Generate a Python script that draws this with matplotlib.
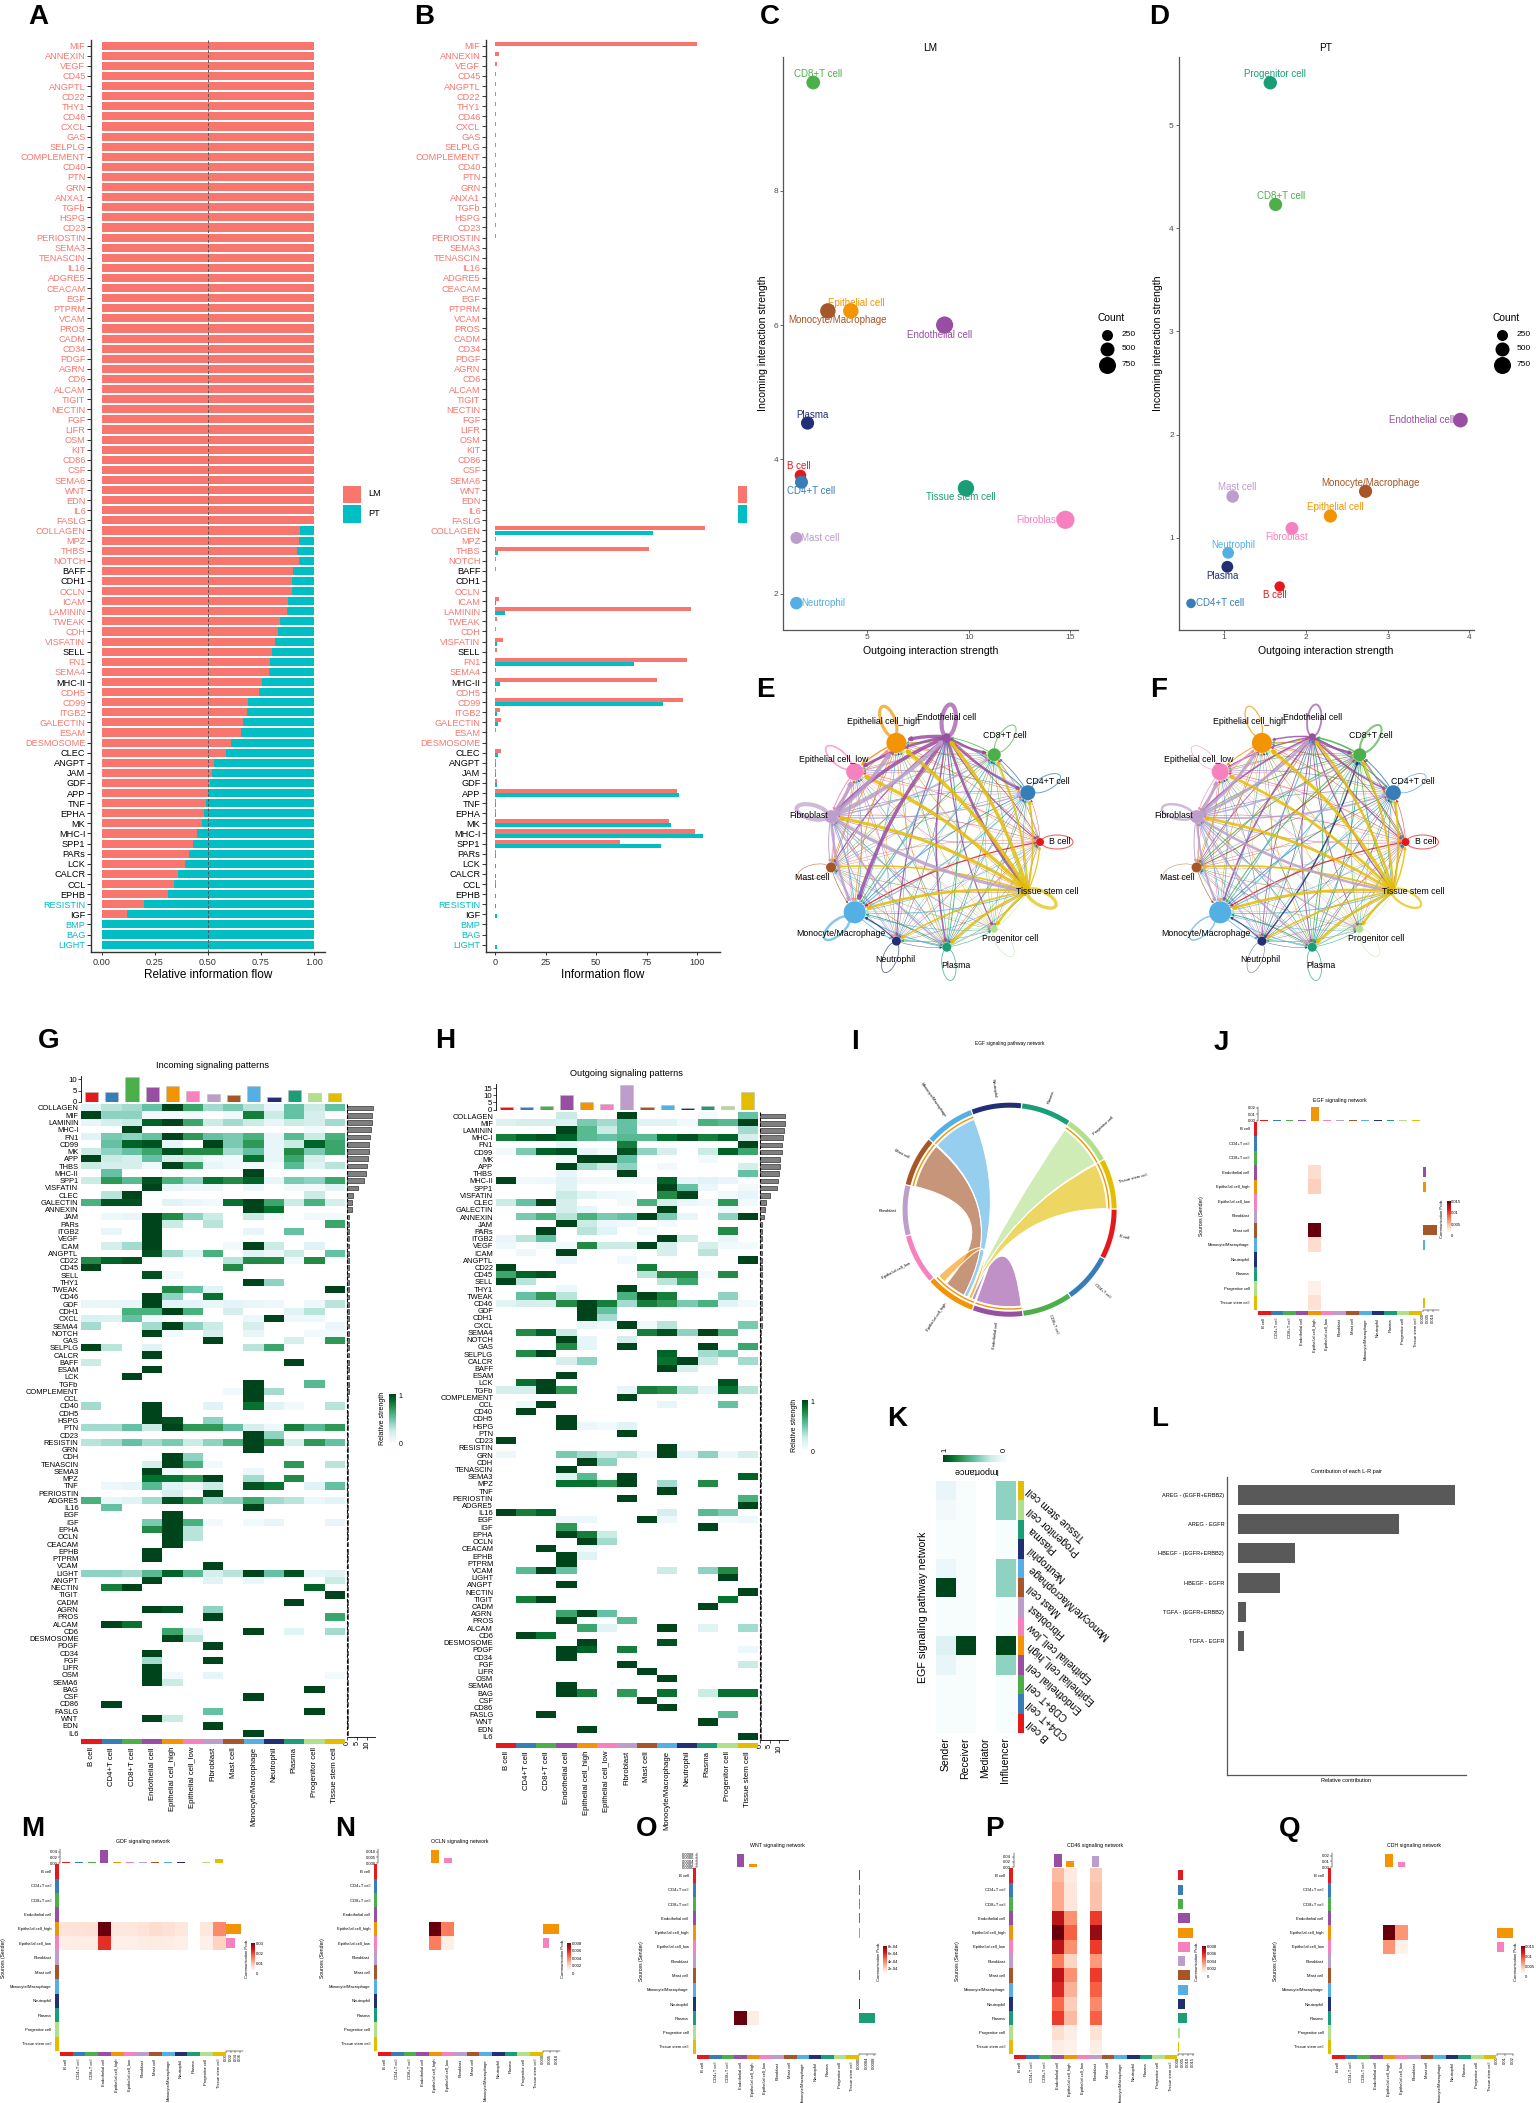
import numpy as np
import matplotlib
matplotlib.use("Agg")
import matplotlib.pyplot as plt
from matplotlib.patches import Rectangle, Ellipse, PathPatch, Circle, FancyArrowPatch
from matplotlib.path import Path

plt.rcParams['font.family'] = ['Liberation Sans', 'DejaVu Sans']

W, H = 1536, 2103

# ---------------- shared categories ----------------
cell_types = ["B cell", "CD4+T cell", "CD8+T cell", "Endothelial cell", "Epithelial cell_high",
              "Epithelial cell_low", "Fibroblast", "Mast cell", "Monocyte/Macrophage", "Neutrophil",
              "Plasma", "Progenitor cell", "Tissue stem cell"]
cell_colors = ["#E5191C", "#377EB8", "#4DAF4A", "#984EA3", "#F29403", "#F781BF", "#BC9DCC",
               "#A65628", "#54B0E4", "#222F75", "#1B9E77", "#B2DF8A", "#E3BE00"]
LM_COLOR = "#F8766D"
PT_COLOR = "#00BFC4"

# ---------------- A / B information flow ----------------
flow_pathways = ["MIF", "ANNEXIN", "VEGF", "CD45", "ANGPTL", "CD22", "THY1", "CD46", "CXCL", "GAS", "SELPLG",
                 "COMPLEMENT", "CD40", "PTN", "GRN", "ANXA1", "TGFb", "HSPG", "CD23", "PERIOSTIN", "SEMA3",
                 "TENASCIN", "IL16", "ADGRE5", "CEACAM", "EGF", "PTPRM", "VCAM", "PROS", "CADM", "CD34", "PDGF",
                 "AGRN", "CD6", "ALCAM", "TIGIT", "NECTIN", "FGF", "LIFR", "OSM", "KIT", "CD86", "CSF", "SEMA6",
                 "WNT", "EDN", "IL6", "FASLG", "COLLAGEN", "MPZ", "THBS", "NOTCH", "BAFF", "CDH1", "OCLN", "ICAM",
                 "LAMININ", "TWEAK", "CDH", "VISFATIN", "SELL", "FN1", "SEMA4", "MHC-II", "CDH5", "CD99", "ITGB2",
                 "GALECTIN", "ESAM", "DESMOSOME", "CLEC", "ANGPT", "JAM", "GDF", "APP", "TNF", "EPHA", "MK",
                 "MHC-I", "SPP1", "PARs", "LCK", "CALCR", "CCL", "EPHB", "RESISTIN", "IGF", "BMP", "BAG", "LIGHT"]
black_labels = ["BAFF", "CDH1", "SELL", "MHC-II", "CLEC", "ANGPT", "JAM", "GDF", "APP", "TNF", "EPHA", "MK",
                "MHC-I", "SPP1", "PARs", "LCK", "CALCR", "CCL", "EPHB", "IGF"]
teal_labels = ["RESISTIN", "BMP", "BAG", "LIGHT"]
lm_fraction = [1, 1, 1, 1, 1, 1, 1, 1, 1, 1, 1, 1, 1, 1, 1, 1, 1, 1, 1, 1, 1, 1, 1, 1,
               1, 1, 1, 1, 1, 1, 1, 1, 1, 1, 1, 1, 1, 1, 1, 1, 1, 1, 1, 1, 1, 1, 1, 1,
               .933, .931, .922, .929, .902, .897, .895, .879, .872, .84, .831, .816, .804, .794, .789,
               .754, .74, .688, .686, .663, .654, .61, .585, .526, .52, .51, .50, .49, .48, .47, .45, .43,
               .41, .39, .36, .34, .31, .20, .12, 0, 0, 0]
lm_flow = [100, 1.8, 1, .7, .7, .5, .5, .4, .4, .4, .4, .3, .3, .3, .3, .3, .3, .3, .3, .3, .2, .2, .2, .2,
           .2, .2, .2, .2, .2, .2, .2, .2, .2, .2, .2, .2, .2, .2, .2, .2, .2, .2, .2, .2, .2, .2, .2, .2,
           104, .5, 76, .5, .3, .2, .1, 2, 97, .8, .4, 4, 1, 95, .5, 80, .3, 93, 2.5, 3, .3, .2, 3, .4, .5, 1,
           90, .4, .3, 86, 99, 62, .4, .2, .2, .3, .1, .1, .1, 0, 0, 0]
pt_flow = [0, 0, 0, 0, 0, 0, 0, 0, 0, 0, 0, 0, 0, 0, 0, 0, 0, 0, 0, 0, 0, 0, 0, 0,
           0, 0, 0, 0, 0, 0, 0, 0, 0, 0, 0, 0, 0, 0, 0, 0, 0, 0, 0, 0, 0, 0, 0, 0,
           78, .1, 1.5, .1, .1, .1, 0, .3, 5, .2, .1, .8, .2, 69, .1, 2.5, .1, 83, 1, 1.5, .1, .1, 1.5, .3, .4,
           .8, 91, .4, .3, 87, 103, 82, .5, .3, .3, .6, .3, .5, 1, .1, .2, .8]

# ---------------- C / D scatter ----------------
lm_names = ["CD8+T cell", "Epithelial cell", "Monocyte/Macrophage", "Endothelial cell", "Plasma", "B cell",
            "CD4+T cell", "Tissue stem cell", "Fibroblast", "Mast cell", "Neutrophil"]
lm_out = [2.33, 4.18, 3.05, 8.8, 2.05, 1.7, 1.75, 9.85, 14.75, 1.5, 1.5]
lm_in = [9.61, 6.21, 6.21, 6.0, 4.54, 3.76, 3.66, 3.57, 3.10, 2.83, 1.86]
lm_count = [480, 620, 620, 760, 430, 300, 420, 700, 850, 330, 380]
lm_colors = ["#4DAF4A", "#F29403", "#A65628", "#984EA3", "#222F75", "#E5191C", "#377EB8", "#1B9E77",
             "#F781BF", "#BC9DCC", "#54B0E4"]
lm_offsets = [(5, 9), (5, 8), (10, -9), (-5, -10), (5, 8), (-2, 9), (10, -9), (-5, -9), (-28, 0), (24, 0), (27, 0)]

pt_names = ["Progenitor cell", "CD8+T cell", "Endothelial cell", "Monocyte/Macrophage", "Mast cell",
            "Epithelial cell", "Fibroblast", "Neutrophil", "Plasma", "B cell", "CD4+T cell"]
pt_out = [1.565, 1.63, 3.89, 2.73, 1.105, 2.30, 1.83, 1.05, 1.04, 1.68, 0.596]
pt_in = [5.41, 4.23, 2.14, 1.45, 1.40, 1.21, 1.09, .853, .718, .527, .363]
pt_count = [450, 430, 560, 430, 380, 430, 410, 310, 320, 200, 130]
pt_colors = ["#1B9E77", "#4DAF4A", "#984EA3", "#A65628", "#BC9DCC", "#F29403", "#F781BF", "#54B0E4",
             "#222F75", "#E5191C", "#377EB8"]
pt_offsets = [(5, 9), (5, 9), (-39, 0), (5, 8), (5, 9), (5, 9), (-5, -9), (5, 8), (-5, -9), (-5, -9), (29, 0)]

# ---------------- E / F network, edge weight rows are the sender ----------------
lm_edges = [[1.0, .4, .4, .6, .4, .4, .4, .3, 1.2, .2, .4, .3, .4],
            [.4, 1.0, .8, .8, .5, .5, .5, .4, .8, .3, .5, .4, .5],
            [.3, .4, 1.0, .8, .4, .4, .4, .4, .8, .3, .6, .4, .5],
            [1.2, 2.2, 2.4, 4.0, 3.2, 2.6, 3.4, 1.2, 3.4, 1.2, 1.6, 1.2, 2.6],
            [.4, .5, .6, 1.2, 3.0, 1.4, .8, .8, .8, .4, .6, .4, .6],
            [.4, .6, .6, 1.2, 1.6, 1.6, 1.0, .6, .8, .4, .6, .4, .6],
            [.8, 1.2, 1.4, 3.6, 3.6, 3.4, 4.0, 1.0, 2.4, .8, 1.6, 1.0, 3.2],
            [.2, .3, .3, .6, .5, .5, .5, .6, .6, .2, .4, .3, .4],
            [.6, 1, 1, 1.2, .8, .8, 1, .6, 2.4, .8, 1, .6, .8],
            [.2, .3, .3, .4, .3, .3, .3, .2, 1, .8, .4, .3, .3],
            [.4, .6, .6, .8, .5, .5, .6, .4, .8, .6, .8, .5, .5],
            [.3, .5, .5, .6, .4, .4, .5, .4, .6, .4, .6, .6, .4],
            [1.2, 1.6, 1.8, 3.2, 3.4, 3.2, 3.0, 1.6, 2.6, 1.6, 2.2, 2.2, 3.2]]
pt_edges = [[1.0, .5, .6, .6, .4, .4, .4, .3, 1.2, .2, .4, .3, .6],
            [.6, .7, .9, .9, .5, .5, .5, .4, .9, .4, .5, .4, .6],
            [1.0, .8, 2.0, 1.6, .6, .6, .8, 1.0, 1.0, .4, .8, .6, .8],
            [1.2, 1.6, 2.4, 1.8, 1.4, 1.2, 1.6, .8, 1.6, .8, 1.0, .8, 1.2],
            [.4, .5, .6, 1, 1.2, .9, .6, .6, .6, .3, .5, .4, .5],
            [.4, .5, .5, .8, 1.4, .7, .7, .5, .6, .3, .5, .4, .5],
            [.8, 1.6, 1.4, 2.6, 2.8, 2.8, 2.4, 1, 1.8, .8, 1.6, 1.2, 2.4],
            [.3, .4, 1, .6, .5, .5, .5, .5, .6, .2, .4, .3, .4],
            [.6, 1, 1, 1, .8, .8, .8, .6, 1.4, .8, .8, .6, .8],
            [.3, .4, 1.4, .5, .3, .3, .3, .2, .9, .5, .4, .3, .3],
            [.4, .6, .8, .8, .5, .5, .6, .4, .8, .5, .8, .5, .5],
            [.3, .5, .5, .6, .4, .4, .5, .4, .6, .4, .5, .5, .4],
            [1.4, 2, 2, 2.4, 3, 2.6, 2.6, 1.8, 2.6, 1.6, 2.2, 2.2, 2.2]]
lm_node_size = [8, 15, 13, 7, 20, 17, 13, 10, 22, 9, 9, 7, 5]
pt_node_size = [8, 15, 13, 7, 20, 17, 13, 10, 22, 9, 9, 7, 4]

# ---------------- G / H heatmaps (strength x 10) ----------------
heat_pathways = ["COLLAGEN", "MIF", "LAMININ", "MHC-I", "FN1", "CD99", "MK", "APP", "THBS", "MHC-II", "SPP1",
                 "VISFATIN", "CLEC", "GALECTIN", "ANNEXIN", "JAM", "PARs", "ITGB2", "VEGF", "ICAM", "ANGPTL",
                 "CD22", "CD45", "SELL", "THY1", "TWEAK", "CD46", "GDF", "CDH1", "CXCL", "SEMA4", "NOTCH", "GAS",
                 "SELPLG", "CALCR", "BAFF", "ESAM", "LCK", "TGFb", "COMPLEMENT", "CCL", "CD40", "CDH5", "HSPG",
                 "PTN", "CD23", "RESISTIN", "GRN", "CDH", "TENASCIN", "SEMA3", "MPZ", "TNF", "PERIOSTIN", "ADGRE5",
                 "IL16", "EGF", "IGF", "EPHA", "OCLN", "CEACAM", "EPHB", "PTPRM", "VCAM", "LIGHT", "ANGPT",
                 "NECTIN", "TIGIT", "CADM", "AGRN", "PROS", "ALCAM", "CD6", "DESMOSOME", "PDGF", "CD34", "FGF",
                 "LIFR", "OSM", "SEMA6", "BAG", "CSF", "CD86", "FASLG", "WNT", "EDN", "IL6"]
incoming = [
    [1.5, 3, 3.5, 5, 10, 6.5, 3.5, 4.5, 3, 1, 5, 2.5, 5],
    [10, 4, 4, .3, .3, .3, 0, .5, 8, 2.5, 5, 2, 0],
    [1, 2, 2.5, 9, 10, 6.5, 2.5, 3.5, 2.5, 1, 2.5, 2, 3.5],
    [0, 0, 10, 0, 0, 0, 0, 0, 0, 0, 0, .5, 0],
    [1.5, 4.5, 4, 5, 10, 7, 5, 4.5, 6, 1, 5.5, 2.5, 6],
    [0, 5, 9, 9.5, 1, 0, 10, 4.5, 7, 1, 2.5, 9, 6.5],
    [2.5, 4, 5, 6.5, 9.5, 7.5, 7.5, 3.5, 5, 1, 7.5, 4.5, 6.5],
    [10, 2.5, 2, 5, 2, 2, .5, .5, 8.5, 1, 6.5, 2, 0],
    [2.5, 2, 2, .5, 10, 6.5, 1, .5, .5, .3, 5.5, 1.5, 3],
    [0, 5, 0, 0, 0, 0, 0, 0, 10, 0, 0, 0, 0],
    [2.5, 7, 5.5, 9.5, 6, 4, 8.5, 7.5, 9, 1, 4.5, 4, 6.5],
    [0, 0, 0, 10, 1, .5, .7, 0, .7, 0, .3, .3, 1.5],
    [0, 3, 10, 0, 0, 0, 0, 0, 0, 0, 0, 2.5, 0],
    [6, 9.5, 9.5, 0, 1.5, .8, .5, 8.5, 10, 6.5, 2.5, 6, 2],
    [0, 0, 0, 0, 0, 0, 0, 0, 10, 8.5, 0, 0, 0],
    [0, .7, 1, 10, 7.5, 4, 2.5, 0, 2.5, .3, 0, .5, .3],
    [0, 0, 0, 10, 2.5, 0, 3, 0, 0, 0, 0, 0, 6.5],
    [0, 1, 0, 10, 0, 0, 0, 0, 1.2, 0, 5, 0, 0],
    [0, 0, 0, 10, 0, 0, 0, 0, 0, 0, 0, 0, 0],
    [0, 2, 3.5, 10, 0, 0, 0, .4, 10, 2.5, 0, 1.5, 0],
    [0, 0, 0, 9.5, 3.5, 1.5, 6, 0, 1.5, .6, 2.5, 0, 5],
    [7.5, 9, 9.5, 0, 0, 0, 0, 3, 7.5, 7.5, .5, 7.5, 0],
    [10, 0, 0, 0, 0, 0, 0, 7.5, 0, 0, 0, 0, 0],
    [0, 0, 0, 9.5, .4, 0, 0, 0, 0, 0, 0, 0, 0],
    [0, 0, 0, 0, 0, 0, 0, 0, 10, 4, 0, 0, 0],
    [0, 0, 0, 0, 7.5, 5, 1.5, 0, 0, 0, 0, 0, 10],
    [0, 0, 0, 10, 4, 0, 8.5, 0, 0, 0, 0, 0, 0],
    [1, 1, 1, 10, 1.3, 1.3, 1, 1.3, 1, .7, 0, .7, 3],
    [0, 0, 6, 6, 10, 6, 0, 2, 0, 0, 1.5, 3, 0],
    [1.8, 1.7, 5, .4, 0, 0, 0, 0, .8, 10, .6, .7, 0],
    [3.5, 0, 0, 3.5, 10, 4, 2.5, 0, 2, 0, 0, 0, .8],
    [0, 0, 0, 10, .4, 0, 2, 0, 1, 0, 0, .4, .5],
    [0, 0, 0, 0, 0, 0, 10, 0, 0, 0, 2, 0, 7],
    [10, 3, 0, 1.5, 0, 0, 0, 0, 3, 6.5, 0, 0, 0],
    [0, 0, 0, 10, 0, 0, 0, 0, 0, 0, 0, 0, 0],
    [2.5, 0, 0, 0, 0, 0, 0, 0, 0, 0, 10, 0, 0],
    [0, 0, 0, 10, 0, 0, 0, 0, 0, 0, 0, 0, 0],
    [0, 0, 10, 0, 0, 0, 0, 0, 0, 0, 0, 0, 0],
    [0, 0, 0, 0, 0, 0, 0, 0, 10, 0, 0, 5.5, 0],
    [0, 0, 0, 0, 0, 0, 0, .5, 10, 3.5, 0, 0, 0],
    [0, 0, 0, 0, 0, 0, 0, 0, 10, 0, 0, 0, 0],
    [3.5, 0, 0, 10, 0, 0, 1.5, 0, 8.5, 1.5, .4, 0, 3],
    [0, 0, 0, 10, 0, 0, 0, 0, 0, 0, 0, 0, 0],
    [0, 0, 0, 10, 9.5, 0, 4, 0, 0, 0, 0, 0, 0],
    [3.5, 3.5, 5, 2.5, 10, 7, 7, 5, 2, .7, 8, 5.5, 7],
    [0, 0, 0, 0, 0, 0, 0, 0, 10, 4, 0, 0, 0],
    [3, 3.5, 5, 3.5, 4.5, 2.5, 4, 6, 10, 7.5, 2, 7, 5],
    [0, 0, 0, 0, 0, 0, 0, 0, 10, 0, 0, 0, 0],
    [0, 0, 0, 0, 10, 4, 0, 0, 0, 0, 0, 0, 0],
    [0, 0, 0, 2, 10, 6, .5, 0, 0, 0, 7, 0, 3],
    [0, 0, 0, 10, .5, 0, 0, 0, .8, 0, 0, 0, 0],
    [0, 0, 0, 8.5, 8.5, 7, 10, 0, 3.5, 0, 7.5, 0, 0],
    [0, .7, 1, 5.5, 1.5, .7, 2.5, 0, 9.5, 8.5, 0, 1.5, 5],
    [0, 0, 0, 0, 2, 0, 10, 0, 0, 0, 0, 0, 0],
    [6, 1, 1.5, 3.5, 9.5, 7, 3.5, 4, 6.5, 3.5, 3, .8, 1.5],
    [0, 5, 0, 0, 0, 0, 0, 0, 10, 0, 0, 0, 0],
    [0, 0, 0, 0, 10, 0, 0, 0, 0, 0, 0, 0, 0],
    [0, 0, 0, 4.5, 10, 6, .4, 0, .5, 1, 0, 0, 1],
    [0, 0, 0, 7.5, 10, 3, 0, 0, 0, 0, 0, 0, 0],
    [0, 0, 0, 0, 10, 3, 0, 0, 0, 0, 0, 0, 0],
    [0, 0, 0, 0, 10, 0, 0, 0, 0, 0, 0, 0, 0],
    [0, 0, 0, 10, 0, 0, 0, 0, 0, 0, 0, 0, 0],
    [0, 0, 0, 10, 0, 0, 0, 0, 0, 0, 0, 0, 0],
    [0, 0, 0, 0, 0, 0, 10, 0, 0, 0, 0, 0, 0],
    [4, 4, 3.5, 5.5, 9, 5.5, 2, 3, 10, 5, 9.5, 1.2, 1.5],
    [0, 0, 0, 10, 0, 0, 1.5, 0, 1, 0, 0, 0, 2.5],
    [0, 8, 10, 0, 0, 0, 0, 0, 0, 0, 0, 9, 0],
    [0, 0, 0, 0, 0, 0, 0, 0, 0, 0, 0, 0, 10],
    [0, 0, 0, 0, 0, 0, 0, 0, 0, 0, 10, 0, 0],
    [0, 0, 0, 10, 9.5, 0, 4, 0, 0, 0, 0, 0, 0],
    [0, 0, 0, 0, 0, 0, 10, 0, 0, 0, 0, 0, 6.5],
    [0, 10, 8.5, 0, 0, 0, 0, 0, 0, 0, 0, 0, 0],
    [0, 0, 0, 0, 6.5, 1.5, 0, 0, 10, 0, 1.5, 0, 3.5],
    [0, 0, 0, 0, 10, 3, 0, 0, 0, 0, 0, 0, 0],
    [0, 0, 0, 0, 0, 0, 10, 0, 0, 0, 0, 0, 0],
    [0, 0, 0, 10, 0, 0, 0, 0, 0, 0, 0, 0, 0],
    [0, 0, 0, 3.5, 0, 0, 10, 0, 0, 0, 0, 0, 0],
    [0, 0, 0, 10, 0, 0, 0, 0, 0, 0, 0, 0, 0],
    [0, 0, 0, 10, .5, 0, 1.2, 0, 0, 0, 0, 0, .3],
    [0, 0, 0, 10, 2.5, 0, 0, 0, 0, 0, 0, 0, 0],
    [0, 0, 0, 0, 0, 0, 0, 0, 0, 0, 0, 10, 0],
    [0, 0, 0, 0, 0, 0, 0, 0, 10, 0, 0, 0, 0],
    [0, 10, 0, 0, 0, 0, 0, 0, 0, 0, 0, 0, 0],
    [0, 0, 0, 0, 0, 0, 5, 0, 0, 0, 0, 10, 0],
    [0, 0, 0, 10, 2.5, 0, 0, 0, 0, 0, 0, 0, 0],
    [0, 0, 0, 0, 0, 0, 10, 0, 0, 0, 0, 0, 0],
    [0, 0, 0, 0, 0, 0, 0, 0, 10, 0, 0, 0, 0]]
outgoing = [
    [0, 0, 0, 2.5, 0, 0, 10, 0, 0, 0, .3, 0, 5],
    [1.7, 2, 2, 1.7, 4.5, 3.5, 5, 1.5, 1.5, .5, 6, 5.5, 10],
    [0, 0, 0, 10, 5.5, 2.5, 5, 0, 0, 0, 0, 0, 3.5],
    [8, 9, 9.5, 9, 5.5, 5, 5.5, 5.5, 8.5, 9.5, 8, 9, 2],
    [0, 0, 0, 1, 0, 0, 8, 0, 0, 0, 0, 0, 10],
    [.4, 4.5, 9, 9.5, 1, .3, 9.5, 4, 2, 0, 2.5, 9, 6.5],
    [0, 0, 0, .3, 10, 10, 5, 0, 0, 0, .3, 0, 0],
    [0, 0, 0, 10, 3.5, 2.5, 4, 0, .4, 0, 0, 0, 2],
    [0, 0, 0, 1, 0, 0, 10, 0, 0, 0, 0, 0, 5],
    [10, .5, .7, 1.5, .4, .4, .4, .4, 9, 1, 1.5, 1, 0],
    [0, 0, 0, 1.5, 0, 0, 0, 0, 10, 5, .8, 0, .4],
    [0, 0, 0, 2.5, 1.5, .7, .5, 0, 7.5, 10, 0, .5, 1.2],
    [2.5, 5, 10, 2, 0, 0, .4, 6, 2, .8, .4, 7, .5],
    [0, 0, 0, 2, 1, 0, 0, 0, 10, 0, 0, .5, 0],
    [0, 4.5, 6, 3, 6, 4.5, 5, 10, 4.5, 1, 0, 4, 10],
    [0, 0, 0, 10, 2.5, .8, .4, 0, .3, 0, 0, 0, 0],
    [0, 0, 10, 0, 3, 1.5, 0, .5, 0, 0, 0, 7.5, 0],
    [1, 3, 5, 0, 0, 0, 0, 0, 10, 2.5, 0, .9, 0],
    [.6, 0, .3, .5, 7.5, 2.5, 2.5, 10, 2, 0, 2, .5, .3],
    [0, .6, 0, 10, 0, 0, 0, 0, 2, 0, 3, 0, 0],
    [0, 0, 0, .8, 0, 0, .5, 0, 0, 0, 0, 0, 10],
    [10, 0, 0, 0, 0, 0, 0, 8, 0, 0, 0, 0, 0],
    [6.5, 9, 9.5, 0, 0, 0, 0, 3, 7.5, 7.5, .5, 7.5, 0],
    [10, 3, 0, 0, 0, 0, 0, 0, 3, 6.5, 0, 0, 0],
    [0, 0, 0, .8, 0, 0, 10, 0, 0, 0, 0, 0, 0],
    [0, 5, 7, 3, 0, 0, 6, 10, 8, 0, 0, 4, 0],
    [1.5, 2, 2, 7.5, 10, 8, 3.5, 8, 7, 4.5, 6, 1.5, .5],
    [0, 0, 0, 0, 10, 5, 0, 0, 0, 0, 0, 0, 0],
    [0, 0, 0, 0, 10, 3.5, 0, 0, 0, 0, 0, 0, 0],
    [0, 0, 0, 0, 1, .3, 10, .5, 3, 0, 0, 0, 4.5],
    [0, 7.5, 9, 2.5, 0, 0, 0, 8, 9.5, 4, 10, 6, 0],
    [0, 0, 0, 10, 1.2, 0, 2, 0, 0, 0, 0, 0, 0],
    [0, 0, 0, 7.5, 1.2, 0, 10, 0, 0, 0, 10, 0, 6.5],
    [0, 7.5, 10, 0, 0, 0, 0, 0, 9, 0, 3.5, 4.5, 0],
    [0, 0, 0, 2, 4, 0, 0, 0, 8.5, 10, 2.5, 0, 3.5],
    [0, 0, 0, 0, 0, 0, 0, 0, 10, 2, 0, 0, 0],
    [0, 0, 0, 10, 0, 0, 0, 0, 0, 0, 0, 0, 0],
    [0, 8.5, 10, 0, 0, 0, 0, 0, 0, 0, 0, 9.5, 0],
    [2, 2, 10, 7, 0, 0, 1, 8, 7.5, 3, 1, 8.5, 3],
    [0, 0, 0, 0, 0, 0, 10, 0, 0, 0, 0, 0, 0],
    [0, .7, 10, 0, 0, 0, 0, 0, 1, 0, 0, 5, 0],
    [0, 10, 0, 0, 0, 0, 0, 0, 0, 0, 0, 0, 0],
    [0, 0, 0, 10, 0, 0, 0, 0, 0, 0, 0, 0, 0],
    [0, 0, 0, 10, .8, .5, 1.5, 0, 0, 0, 0, 0, 0],
    [0, 0, 0, 0, 0, 0, 10, 0, 0, 0, 0, 0, 0],
    [10, 0, 0, 0, 0, 0, 0, 0, 0, 0, 0, 0, 0],
    [0, 0, 0, 0, 0, 0, 0, 0, 10, 0, 0, 0, 0],
    [.6, 0, 0, 4.5, 3.5, 2.5, 3, .8, 10, 1.5, 4, .6, 2],
    [0, 0, 0, 0, 10, 4, 0, 0, 0, 0, 0, 0, 0],
    [0, 0, 0, 10, 0, 0, 0, 0, 0, 0, 0, 0, 0],
    [0, 0, 0, 1.5, 5.5, 0, 10, 0, 0, 0, 0, 0, 9],
    [0, 0, 0, 8.5, 8.5, 7, 10, 0, 3.5, 0, 7.5, 0, 0],
    [0, 0, 0, 0, 0, 0, 0, 0, 10, 0, 0, 0, 0],
    [0, 0, 0, 0, 0, 0, 10, 0, 0, 0, 0, 0, 6],
    [0, 0, 0, 0, 0, 0, 0, 0, 0, 0, 0, 0, 10],
    [10, 8, 9, 0, 0, 0, 0, 0, 2, 0, 5.5, 4.5, 0],
    [0, 0, 0, .6, .8, 0, 0, 10, .7, 0, 0, .3, .7],
    [0, 0, 0, 7, 0, 0, 0, 0, 0, 0, 10, 0, 0],
    [0, 0, 0, 10, 8, 2.5, 0, 0, 0, 0, 0, 0, 0],
    [0, 0, 0, 0, 10, 3.5, 0, 0, 0, 0, 0, 0, 0],
    [0, 0, 10, 0, .4, 0, 0, 0, 0, 0, 0, 0, 0],
    [0, 0, 0, 10, 1.5, 0, 0, 0, 0, 0, 0, 0, 0],
    [0, 0, 0, 10, 0, 0, 0, 0, 0, 0, 0, 0, 0],
    [0, 5.5, 10, 5, 0, 0, 0, 0, 2.5, 0, 4, 7.5, 0],
    [0, 0, 0, 0, 0, 0, 0, 0, 0, 0, 0, 10, 0],
    [0, 0, 0, 10, 0, 0, 0, 0, 0, 0, 0, 0, 0],
    [0, 0, 0, 0, 0, 0, 0, 0, 0, 0, 0, 0, 10],
    [0, 8, 10, 0, 0, 0, 0, 0, 0, 0, 0, 8.5, 0],
    [0, 0, 0, 0, 0, 0, 0, 0, 0, 0, 10, 0, 0],
    [0, 0, 0, 6.5, 10, 5, 0, 0, 0, 0, 0, 0, 0],
    [0, 0, 0, 10, 0, 0, 5.5, 0, 0, 0, 0, 0, 0],
    [0, 0, 0, 0, 6.5, 1.5, 0, 0, 10, 0, 1.5, 0, 3.5],
    [0, 10, 8.5, 0, 0, 0, 0, 0, 0, 0, 0, 0, 0],
    [0, 0, 0, 0, 10, 0, 0, 0, 9.5, 0, 0, 0, 0],
    [0, 0, 0, 10, 9, 0, 8, 0, 0, 0, 0, 0, .8],
    [0, 0, 0, 10, 0, 0, 0, 0, 0, 0, 0, 0, 0],
    [0, 0, 0, 0, 0, 0, 10, 0, 0, 0, 0, 0, 2.5],
    [0, 0, 0, 0, 0, 0, 0, 10, 0, 0, 0, 0, 0],
    [0, 0, 0, 0, 0, 0, 0, 0, 10, 0, 0, 0, 0],
    [0, 0, 0, 10, 0, 0, 0, 0, 0, 0, 0, 0, 0],
    [0, 0, 0, 10, 8, 0, 7, 0, 8.5, 0, 2.5, 8.5, 8.5],
    [0, 0, 0, 0, 0, 0, 0, 10, 0, 0, 0, 0, 0],
    [0, 0, 0, 0, 0, 0, 0, 0, 10, 0, 0, 0, 0],
    [0, 0, 10, 0, 0, 0, 0, 0, 0, 0, 0, 5.5, 0],
    [0, 0, 0, 0, 0, 0, 0, 0, 0, 0, 10, 0, 0],
    [0, 0, 0, 0, 10, 0, 0, 0, 0, 0, 0, 0, 0],
    [0, 0, 0, 0, 0, 0, 0, 0, 0, 0, 0, 0, 10]]
incoming_top = [4.5, 4.3, 11, 6.5, 7, 4.7, 3.6, 3.3, 7, 2.3, 5.3, 4, 4.1]
outgoing_top = [1.7, 2, 2.3, 10.5, 5.6, 4, 17, 1.7, 3.2, 1.4, 2.3, 2.9, 12]
incoming_side = [13.3, 13, 12.7, 12.4, 11.9, 11.4, 11.1, 10.8, 10.3, 9.8, 8.9, 5.4, 3, 2.5, 2.2,
                 1, 1, 1, .9, .9, .9, .9, .9, .8, .8, .8, .8, .8, .8, .8, .7, .7, .7, .7, .7, .7,
                 .7, .7, .7, .7, .6, .6, .6, .6, .6, .6, .6, .6, .6, .6, .6, .5, .5, .5, .5, .5, .5,
                 .5, .5, .5, .5, .5, .5, .5, .5, .4, .4, .4, .4, .4, .4, .4, .4, .4, .4, .4, .4, .4,
                 .4, .4, .3, .3, .3, .3, .3, .3, .3]
outgoing_side = [12.9, 12.8, 12.2, 11.7, 11.4, 11.2, 10.5, 10.2, 9.8, 9.5, 8.6, 5.2, 2.9, 2.4, 2.2,
                 1, 1, 1, .9, .9, .9, .9, .9, .8, .8, .8, .8, .8, .8, .8, .7, .7, .7, .7, .7, .7,
                 .7, .7, .7, .7, .6, .6, .6, .6, .6, .6, .6, .6, .6, .6, .6, .5, .5, .5, .5, .5, .5,
                 .5, .5, .5, .5, .5, .5, .5, .5, .4, .4, .4, .4, .4, .4, .4, .4, .4, .4, .4, .4, .4,
                 .4, .4, .3, .3, .3, .3, .3, .3, .3]

# ---------------- K / L ----------------
role_names = ["Sender", "Receiver", "Mediator", "Influencer"]
role_cells = ["Tissue stem cell", "Progenitor cell", "Plasma", "Neutrophil", "Monocyte/Macrophage", "Mast cell",
              "Fibroblast", "Epithelial cell_low", "Epithelial cell_high", "Endothelial cell", "CD8+T cell",
              "CD4+T cell", "B cell"]
sender_score = [.1, .04, 0, 0, .08, 1, 0, 0, .16, .1, 0, 0, 0]
receiver_score = [0, 0, 0, 0, 0, 0, 0, 0, 1, 0, 0, 0, 0]
mediator_score = [np.nan] * 13
influencer_score = [.4, .4, 0, 0, .4, .4, 0, 0, 1, .4, 0, 0, 0]
lr_pairs = ["AREG - (EGFR+ERBB2)", "AREG - EGFR", "HBEGF - (EGFR+ERBB2)", "HBEGF - EGFR",
            "TGFA - (EGFR+ERBB2)", "TGFA - EGFR"]
lr_contribution = [1, .742, .262, .193, .0385, .027]

# ---------------- J, M-Q communication probability ----------------
egf_col_epi_high = [0, 0, 0, .002, .0027, 0, 0, .015, .002, 0, 0, .0005, .0017]
egf_top = [.0004, .0004, .0004, .0004, .021, .0004, .0004, .0004, .0004, .0004, .0004, .0004, .0004]
egf_side = [.0003, .0003, .0003, .003, .0035, .0002, .0002, .014, .0026, .0003, .0003, .0004, .0024]

gdf_high = [.003, .0033, .0035, .03, .0025, .0025, .003, .004, .0035, .0025, 0, .0025, .012]
gdf_low = [.0012, .0015, .0015, .02, .001, .001, .0013, .0018, .0015, .001, 0, .001, .005]
gdf_top = [.004, .004, .005, .045, .004, .0035, .0035, .005, .004, .004, .0005, .003, .014]
gdf_side = [.001, .001, .001, .001, .065, .037, .0005, .001, .0005, .001, .0008, .0004, .0008]

ocln_high = [0, 0, 0, 0, .008, .0035, 0, 0, 0, 0, 0, 0, 0]
ocln_low = [0, 0, 0, 0, .0035, .0003, 0, 0, 0, 0, 0, 0, 0]
ocln_top = [.0004, .0003, .0003, .0003, .0115, .0048, .0003, .0003, .0002, .0003, .0003, .0002, .0003]
ocln_side = [.0002, .0002, .0002, .0002, .0115, .0045, .0001, .0002, .0001, .0002, .0001, .0001, .0001]

wnt_plasma = [0, 0, 0, .0008, .00004, 0, 0, 0, 0, 0, 0, 0, 0]
wnt_top = [.00004, .00003, .00003, .00085, .0002, .00003, .00002, .00004, .00003, .00004, .00003, .00002, .00003]
wnt_side = [.00003, .00002, .00002, .00002, .00002, .00001, .00001, .00002, .00001, .00002, .00085, .00001, .00001]

cd46_endo = [.002, .0024, .0024, .0064, .008, .0064, .0035, .0064, .0055, .004, .005, .001, .0004]
cd46_epi = [.0005, .0007, .0007, .003, .0042, .003, .0013, .003, .0022, .0015, .002, .0004, .0002]
cd46_fib = [.0016, .0018, .0018, .005, .0072, .005, .0028, .005, .0042, .0032, .0042, .0009, .0004]
cd46_top = [.002, .0012, .0012, .05, .022, .001, .042, .002, .0012, .0015, .001, .0008, .0012]
cd46_side = [.0047, .0047, .0047, .0117, .015, .0117, .0066, .0117, .0098, .007, .0094, .0023, .001]

cdh_high = [0, 0, 0, 0, .015, .0055, 0, 0, 0, 0, 0, 0, 0]
cdh_low = [0, 0, 0, 0, .0055, .0004, 0, 0, 0, 0, 0, 0, 0]
cdh_top = [.0006, .0005, .0005, .0005, .022, .009, .0005, .0006, .0004, .0005, .0005, .0004, .0005]
cdh_side = [.0003, .0003, .0003, .0003, .02, .009, .0002, .0004, .0002, .0003, .0002, .0002, .0002]

# ---------------- layout helpers ----------------
fig = plt.figure(figsize=(W / 100, H / 100), dpi=100)


def px_axes(x0, y0, x1, y1, **kw):
    # axes from a box in picture pixels (y going down)
    return fig.add_axes([x0 / W, 1 - y1 / H, (x1 - x0) / W, (y1 - y0) / H], **kw)


ov = fig.add_axes([0, 0, 1, 1], zorder=20)
ov.set_xlim(0, W)
ov.set_ylim(H, 0)
ov.axis('off')
ov.patch.set_alpha(0)


def only_spines(ax, keep, color='#333333', lw=0.8):
    for s in ['left', 'right', 'top', 'bottom']:
        ax.spines[s].set_visible(s in keep)
        ax.spines[s].set_color(color)
        ax.spines[s].set_linewidth(lw)
    ax.patch.set_alpha(0)


# panel letters
letters = [("A", 28, 24), ("B", 414, 24), ("C", 760, 24), ("D", 1149, 24), ("E", 756, 697), ("F", 1150, 697),
           ("G", 38, 1048), ("H", 435, 1048), ("I", 851, 1049), ("J", 1214, 1050), ("K", 887, 1426), ("L", 1151, 1426),
           ("M", 21, 1836), ("N", 335, 1836), ("O", 636, 1836), ("P", 985, 1836), ("Q", 1279, 1836)]
for name, lx, ly in letters:
    ov.text(lx, ly, name, fontsize=20, fontweight='bold', ha='left', va='baseline', color='black')

# ---------------- A ----------------
ROW0, ROWH = 45.7, 10.1
n_flow = len(flow_pathways)
rows = np.arange(n_flow)
label_colors = ['black' if p in black_labels else PT_COLOR if p in teal_labels else LM_COLOR for p in flow_pathways]

ax_a = px_axes(91, 40, 325, 952)
ax_a.barh(rows, lm_fraction, height=0.8, color=LM_COLOR, linewidth=0)
ax_a.barh(rows, 1 - np.array(lm_fraction), left=lm_fraction, height=0.8, color=PT_COLOR, linewidth=0)
ax_a.axvline(0.5, color='#555555', lw=0.7, ls=(0, (3, 2)))
ax_a.set_xlim(-11 / 212, (325 - 102) / 212)
ax_a.set_ylim((952 - ROW0) / ROWH, (40 - ROW0) / ROWH)
ax_a.set_yticks(rows)
ax_a.set_yticklabels(flow_pathways, fontsize=6.6)
for t, c in zip(ax_a.get_yticklabels(), label_colors):
    t.set_color(c)
ax_a.set_xticks([0, .25, .5, .75, 1])
ax_a.set_xticklabels(["0.00", "0.25", "0.50", "0.75", "1.00"], fontsize=6.6, color='#333333')
ax_a.tick_params(axis='y', length=3, width=0.7, pad=1, color='#333333')
ax_a.tick_params(axis='x', length=2.5, width=0.7, pad=1.5, color='#333333')
ax_a.set_xlabel("Relative information flow", fontsize=8.5, labelpad=2)
only_spines(ax_a, ['left', 'bottom'], lw=1.0)

ov.add_patch(Rectangle((343, 486), 18, 17, color=LM_COLOR, lw=0))
ov.add_patch(Rectangle((343, 505), 18, 18, color=PT_COLOR, lw=0))
ov.text(368, 494, "LM", fontsize=6.6, va='center')
ov.text(368, 514, "PT", fontsize=6.6, va='center')

# ---------------- B ----------------
ax_b = px_axes(486, 40, 720, 952)
ax_b.barh(rows - 0.2, lm_flow, height=0.4, color=LM_COLOR, linewidth=0)
ax_b.barh(rows + 0.2, pt_flow, height=0.4, color=PT_COLOR, linewidth=0)
ax_b.set_xlim(-9 / 2.02, (720 - 495) / 2.02)
ax_b.set_ylim((952 - ROW0) / ROWH, (40 - ROW0) / ROWH)
ax_b.set_yticks(rows)
ax_b.set_yticklabels(flow_pathways, fontsize=6.6)
for t, c in zip(ax_b.get_yticklabels(), label_colors):
    t.set_color(c)
ax_b.set_xticks([0, 25, 50, 75, 100])
ax_b.tick_params(axis='x', labelsize=6.6, labelcolor='#333333', length=2.5, width=0.7, pad=1.5, color='#333333')
ax_b.tick_params(axis='y', length=3, width=0.7, pad=1, color='#333333')
ax_b.set_xlabel("Information flow", fontsize=8.5, labelpad=2)
only_spines(ax_b, ['left', 'bottom'], lw=1.0)

ov.add_patch(Rectangle((738, 486), 9, 17, color=LM_COLOR, lw=0))
ov.add_patch(Rectangle((738, 505), 9, 18, color=PT_COLOR, lw=0))


# ---------------- C / D ----------------
def dot_area(counts):
    # circle size legend: 250 -> 11 px, 750 -> 17 px across
    d = 11 + (np.array(counts, dtype=float) - 250) * 0.012
    return (d * 0.72) ** 2


def scatter_panel(box, xlim, ylim, xticks, yticks, xs, ys, counts, colors, names, offsets, title):
    ax = px_axes(*box)
    ax.scatter(xs, ys, s=dot_area(counts), c=colors, linewidths=0, zorder=3, clip_on=False)
    for xv, yv, nm, col, off in zip(xs, ys, names, colors, offsets):
        ax.annotate(nm, (xv, yv), xytext=off, textcoords='offset pixels', color=col, fontsize=7,
                    ha='center', va='center', zorder=2, annotation_clip=False)
    ax.set_xlim(*xlim)
    ax.set_ylim(*ylim)
    ax.set_xticks(xticks)
    ax.set_yticks(yticks)
    ax.tick_params(labelsize=6, labelcolor='#4d4d4d', length=2, width=0.6, pad=1.5, color='#4d4d4d')
    ax.set_xlabel("Outgoing interaction strength", fontsize=7.6, labelpad=3)
    ax.set_ylabel("Incoming interaction strength", fontsize=7.6, labelpad=4)
    ax.set_title(title, fontsize=7.2, pad=4)
    only_spines(ax, ['left', 'bottom'], color='#555555', lw=0.9)
    return ax


scatter_panel((783, 57, 1078, 629.5), (0.84, 15.37), (1.467, 9.99), [5, 10, 15], [2, 4, 6, 8],
              lm_out, lm_in, lm_count, lm_colors, lm_names, lm_offsets, "LM")
scatter_panel((1178.6, 57, 1473.5, 629.5), (0.444, 4.05), (0.11, 5.66), [1, 2, 3, 4], [1, 2, 3, 4, 5],
              pt_out, pt_in, pt_count, pt_colors, pt_names, pt_offsets, "PT")

legend_counts = [250, 500, 750]
for lx in (1106.5, 1502):
    ov.text(lx - 9.5, 318, "Count", fontsize=7.4, va='center')
    for cnt, ly in zip(legend_counts, (335, 349, 365)):
        ov.scatter([lx], [ly], s=dot_area([cnt]), c='black', linewidths=0)
        ov.text(lx + 15, ly, str(cnt), fontsize=6, va='center')

# ---------------- E / F circle networks ----------------
NET_ANGLE = 360 / 13
net_label_pos = [(1060, 842), (1047.6, 782), (1005, 736), (947, 717), (883.7, 721), (833.4, 759), (808.5, 816),
                 (812, 877), (840.5, 933), (895.3, 960), (955.7, 965), (1010.6, 938.7), (1047.6, 892)]


def network_panel(cx, cy, radius, edges, sizes, label_shift):
    angles = np.deg2rad(np.arange(13) * NET_ANGLE)
    nx = cx + radius * np.cos(angles)
    ny = cy - radius * np.sin(angles)
    for i in range(13):
        for j in range(13):
            weight = edges[i][j]
            if i == j:
                ux, uy = np.cos(angles[i]), -np.sin(angles[i])
                mid = 15 + sizes[i] / 2 - 2
                ov.add_patch(Ellipse((nx[i] + ux * mid, ny[i] + uy * mid), 32, 14,
                                     angle=np.rad2deg(np.arctan2(uy, ux)), fill=False,
                                     ec=cell_colors[i], lw=weight * 0.75, alpha=0.7, zorder=2))
            else:
                ov.add_patch(FancyArrowPatch((nx[i], ny[i]), (nx[j], ny[j]), connectionstyle="arc3,rad=0.1",
                                             arrowstyle='-|>', mutation_scale=3.5, color=cell_colors[i],
                                             lw=weight * 0.75, alpha=0.85, shrinkA=sizes[i] * 0.36,
                                             shrinkB=sizes[j] * 0.36, zorder=2 + weight / 10))
    for i in range(13):
        ov.add_patch(Circle((nx[i], ny[i]), sizes[i] / 2, color=cell_colors[i], lw=0, zorder=3))
    for name, (lx, ly) in zip(cell_types, net_label_pos):
        ov.text(lx + label_shift, ly, name, fontsize=6.3, ha='center', va='center', zorder=4)


network_panel(934, 842, 106, lm_edges, lm_node_size, 0)
network_panel(1299.5, 842, 106, pt_edges, pt_node_size, 365.5)

# ---------------- G / H heat ----------------
green_cmap = plt.get_cmap('BuGn').copy()
green_cmap.set_bad('white')
red_cmap = plt.get_cmap('Reds').copy()
red_cmap.set_bad('white')


def signaling_panel(values, top_vals, side_vals, x0, x1, y0, y1, strip, top_base, top_scale, top_ticks,
                    side_x0, side_scale, title, title_xy, label_top, cbar):
    mat = np.array(values, dtype=float) / 10
    ax = px_axes(x0, y0, x1, y1)
    ax.imshow(np.ma.masked_equal(mat, 0), cmap=green_cmap, vmin=0, vmax=1, aspect='auto', interpolation='nearest')
    ax.set_xticks([])
    ax.set_yticks(np.arange(len(heat_pathways)))
    ax.set_yticklabels(heat_pathways, fontsize=5.4)
    ax.tick_params(axis='y', length=0, pad=2)
    only_spines(ax, [])

    # top bars
    height = 26
    ax_top = px_axes(x0, top_base - height, x1, top_base)
    ax_top.bar(np.arange(13), top_vals, width=0.65, color=cell_colors, edgecolor='#bbbbbb', linewidth=0.4)
    ax_top.set_xlim(-.5, 12.5)
    ax_top.set_ylim(0, height / top_scale)
    ax_top.set_xticks([])
    ax_top.set_yticks(top_ticks)
    ax_top.tick_params(axis='y', labelsize=5.6, length=2, width=0.5, pad=1)
    only_spines(ax_top, ['left'], color='black', lw=0.6)

    # side bars
    ax_side = px_axes(side_x0, y0, side_x0 + 28, y1)
    ax_side.barh(np.arange(len(side_vals)), side_vals, height=0.65, color='#7f7f7f', edgecolor='#333333', linewidth=0.5)
    ax_side.set_ylim(len(side_vals) - .5, -.5)
    ax_side.set_xlim(0, 28 / side_scale)
    ax_side.set_yticks([])
    ax_side.set_xticks([0, 5, 10])
    ax_side.tick_params(axis='x', labelsize=5.4, length=2, width=0.5, pad=1, labelrotation=90)
    only_spines(ax_side, ['bottom'], color='black', lw=0.6)
    ov.plot([side_x0, side_x0], [y0, y1], color='black', lw=0.8, ls=(0, (3, 2)))

    # annotation strip under the cells
    ax_strip = px_axes(x0, strip[0], x1, strip[1])
    ax_strip.bar(np.arange(13), [1] * 13, width=1, color=cell_colors, linewidth=0)
    ax_strip.set_xlim(-.5, 12.5)
    ax_strip.set_ylim(0, 1)
    ax_strip.axis('off')
    step = (x1 - x0) / 13
    for k, name in enumerate(cell_types):
        ov.text(x0 + (k + .5) * step, label_top, name, rotation=90, fontsize=5.6, ha='center', va='top')

    ov.text(title_xy[0], title_xy[1], title, fontsize=6.7, ha='center', va='center')

    # colour bar
    cx0, cx1, cy0, cy1 = cbar
    ax_c = px_axes(cx0, cy0, cx1, cy1)
    ax_c.imshow(np.linspace(1, 0, 128)[:, None], cmap=green_cmap, aspect='auto', vmin=0, vmax=1)
    ax_c.axis('off')
    ov.text(cx1 + 3, cy0 + 2, "1", fontsize=5, va='center')
    ov.text(cx1 + 3, cy1 + 2, "0", fontsize=5, va='center')
    ov.text(cx0 - 7, (cy0 + cy1) / 2, "Relative strength", rotation=90, fontsize=5, ha='center', va='center')


signaling_panel(incoming, incoming_top, incoming_side, 81.3, 345, 1104.3, 1736.7, (1739, 1744), 1102, 2.27, [0, 5, 10],
                347.3, 1.92, "Incoming signaling patterns", (213, 1065), 1747, (389, 395.5, 1394, 1443))
signaling_panel(outgoing, outgoing_top, outgoing_side, 496, 757.7, 1112.4, 1740, (1743.3, 1748.3), 1109.7, 1.44, [0, 5, 10, 15],
                760, 1.93, "Outgoing signaling patterns", (626, 1073.6), 1751, (801.7, 807.7, 1400, 1450))

# ---------------- I chord ----------------
CX, CY = 1009.6, 1209.7
SECTOR = 360 / 13
SEC_GAP = 0.7
chord_senders = [7, 8, 11, 12, 3]
chord_receive_from = [-118, -115.6, -115, -114, -111]
chord_receive_to = [-130.5, -118, -115.8, -115, -113]


def polar_xy(r, deg):
    a = np.deg2rad(deg)
    return CX + r * np.cos(a), CY - r * np.sin(a)


def sector_span(i):
    return -SECTOR * i, -SECTOR * (i + 1) + SEC_GAP


def ring_patch(a1, a2, r1, r2, color, z=3):
    t = np.linspace(a1, a2, 30)
    outer = [polar_xy(r2, v) for v in t]
    inner = [polar_xy(r1, v) for v in t[::-1]]
    verts = outer + inner + [outer[0]]
    codes = [Path.MOVETO] + [Path.LINETO] * (len(verts) - 2) + [Path.CLOSEPOLY]
    ov.add_patch(PathPatch(Path(verts, codes), fc=color, ec='none', zorder=z))


def ribbon(a1, a2, b1, b2, r, color, alpha=0.62):
    t1 = np.linspace(a1, a2, 24)
    t2 = np.linspace(b1, b2, 12)
    verts = [polar_xy(r, v) for v in t1]
    codes = [Path.MOVETO] + [Path.LINETO] * (len(t1) - 1)
    verts += [(CX, CY), polar_xy(r, b1)]
    codes += [Path.CURVE3, Path.CURVE3]
    verts += [polar_xy(r, v) for v in t2[1:]]
    codes += [Path.LINETO] * (len(t2) - 1)
    verts += [(CX, CY), polar_xy(r, a1)]
    codes += [Path.CURVE3, Path.CURVE3]
    ov.add_patch(PathPatch(Path(verts, codes), fc=matplotlib.colors.to_rgba(color, alpha),
                           ec='white', lw=0.7, zorder=2))


for i in range(13):
    a1, a2 = sector_span(i)
    ring_patch(a1, a2, 102, 107, cell_colors[i])
    mid = (a1 + a2) / 2
    mx, my = polar_xy(113, mid)
    if np.cos(np.deg2rad(mid)) >= 0:
        ov.text(mx, my, cell_types[i], rotation=mid, rotation_mode='anchor', ha='left', va='center', fontsize=3)
    else:
        ov.text(mx, my, cell_types[i], rotation=mid + 180, rotation_mode='anchor', ha='right', va='center', fontsize=3)

for s, b1, b2 in zip(chord_senders, chord_receive_from, chord_receive_to):
    a1, a2 = sector_span(s)
    ring_patch(a1, a2, 98.6, 100, cell_colors[4])
    ribbon(a1, a2, b1, b2, 97, cell_colors[s])
ribbon(-132, -137, -113, -115, 97, cell_colors[4], alpha=0.6)
ring_patch(-111, -137, 98.6, 100, cell_colors[4])
ov.text(1009.8, 1043, "EGF signaling pathway network", fontsize=3.5, ha='center', va='center')


# ---------------- J, M-Q ----------------
def comm_panel(x0, x1, y0, y1, prob, top_vals, top_max, top_ticks, side_vals, side_max, side_ticks, title, title_xy,
               cbar, cbar_ticks, cbar_labels):
    prob = np.array(prob, dtype=float)
    vmax = prob.max()
    ax = px_axes(x0, y0, x1, y1)
    ax.imshow(np.ma.masked_equal(prob, 0), cmap=red_cmap, vmin=0, vmax=vmax, aspect='auto', interpolation='nearest')
    ax.set_xticks([])
    ax.set_yticks(np.arange(13))
    ax.set_yticklabels(cell_types, fontsize=3)
    ax.tick_params(axis='y', length=0, pad=6)
    only_spines(ax, [])

    ax_top = px_axes(x0, y0 - 15, x1, y0 - 1)
    ax_top.bar(np.arange(13), top_vals, width=0.62, color=cell_colors, linewidth=0)
    ax_top.set_xlim(-.5, 12.5)
    ax_top.set_ylim(0, top_max)
    ax_top.set_xticks([])
    ax_top.set_yticks(top_ticks)
    ax_top.tick_params(axis='y', labelsize=3, length=1.2, width=0.3, pad=0.6)
    only_spines(ax_top, ['left'], color='black', lw=0.35)

    ax_side = px_axes(x1 + 0.5, y0, x1 + 17, y1)
    ax_side.barh(np.arange(13), side_vals, height=0.7, color=cell_colors, linewidth=0)
    ax_side.set_ylim(12.5, -.5)
    ax_side.set_xlim(0, side_max)
    ax_side.set_yticks([])
    ax_side.set_xticks(side_ticks)
    ax_side.tick_params(axis='x', labelsize=3, length=1.2, width=0.3, pad=0.6, labelrotation=90)
    only_spines(ax_side, ['bottom'], color='black', lw=0.35)

    ax_l = px_axes(x0 - 4.5, y0, x0 - 1, y1)
    ax_l.barh(np.arange(13), [1] * 13, height=1, color=cell_colors, linewidth=0)
    ax_l.set_ylim(12.5, -.5)
    ax_l.set_xlim(0, 1)
    ax_l.axis('off')
    ax_b = px_axes(x0, y1 + 1, x1, y1 + 5)
    ax_b.bar(np.arange(13), [1] * 13, width=1, color=cell_colors, linewidth=0)
    ax_b.set_xlim(-.5, 12.5)
    ax_b.set_ylim(0, 1)
    ax_b.axis('off')

    step = (x1 - x0) / 13
    for k, name in enumerate(cell_types):
        ov.text(x0 + (k + .5) * step, y1 + 8, name, rotation=90, fontsize=3, ha='center', va='top')
    ov.text(x0 - 56, (y0 + y1) / 2, "Sources (Sender)", rotation=90, fontsize=3.6, ha='center', va='center')
    ov.text(title_xy[0], title_xy[1], title, fontsize=3.8, ha='center', va='center')

    cx0, cx1, cy0, cy1 = cbar
    ax_c = px_axes(cx0, cy0, cx1, cy1)
    ax_c.imshow(np.linspace(1, 0, 128)[:, None], cmap=red_cmap, aspect='auto', vmin=0, vmax=1)
    ax_c.axis('off')
    span = cy1 - cy0 + 3
    for tv, tl in zip(cbar_ticks, cbar_labels):
        ov.text(cx1 + 1, cy0 + 1 + span * (1 - tv / cbar_ticks[0]), tl, fontsize=3, va='center')
    ov.text(cx0 - 4.5, (cy0 + cy1) / 2 + 2, "Communication Prob.", rotation=90, fontsize=3, ha='center', va='center')


egf_prob = np.zeros((13, 13))
egf_prob[:, 4] = egf_col_epi_high
comm_panel(1258, 1422, 1121.7, 1310, egf_prob, egf_top, .022, [0, .01, .02], egf_side, .016, [0, .005, .01],
           "EGF signaling network", (1340, 1100.7), (1446.7, 1450, 1201, 1232),
           [.015, .01, .005, 0], ["0.015", "0.01", "0.005", "0"])

gdf_prob = np.zeros((13, 13))
gdf_prob[4] = gdf_high
gdf_prob[5] = gdf_low
comm_panel(59.8, 225.5, 1864.3, 2051, gdf_prob, gdf_top, .048, [0, .02, .04], gdf_side, .07, [0, .02, .04, .06],
           "GDF signaling network", (142.6, 1842), (251, 255, 1942.7, 1970),
           [.03, .02, .01, 0], ["0.03", "0.02", "0.01", "0"])

ocln_prob = np.zeros((13, 13))
ocln_prob[4] = ocln_high
ocln_prob[5] = ocln_low
comm_panel(378.4, 542.6, 1864.3, 2051, ocln_prob, ocln_top, .012, [0, .005, .01], ocln_side, .012, [0, .005, .01],
           "OCLN signaling network", (459.3, 1842), (567, 570.6, 1942.7, 1970),
           [.008, .006, .004, .002, 0], ["0.008", "0.006", "0.004", "0.002", "0"])

wnt_prob = np.zeros((13, 13))
wnt_prob[10] = wnt_plasma
comm_panel(697, 858.7, 1868.3, 2054, wnt_prob, wnt_top, .0009, [0, .0002, .0004, .0006, .0008],
           wnt_side, .0009, [0, .0004, .0008], "WNT signaling network", (777, 1845), (883, 886.6, 1945.7, 1973),
           [.0008, .0006, .0004, .0002], ["8e-04", "6e-04", "4e-04", "2e-04"])

cd46_prob = np.zeros((13, 13))
cd46_prob[:, 3] = cd46_endo
cd46_prob[:, 4] = cd46_epi
cd46_prob[:, 6] = cd46_fib
comm_panel(1013.6, 1177.3, 1868.3, 2054, cd46_prob, cd46_top, .052, [0, .02, .04], cd46_side, .016, [0, .005, .01, .015],
           "CD46 signaling network", (1095.5, 1845), (1202, 1205.7, 1945.7, 1973),
           [.008, .006, .004, .002, 0], ["0.008", "0.006", "0.004", "0.002", "0"])

cdh_prob = np.zeros((13, 13))
cdh_prob[4] = cdh_high
cdh_prob[5] = cdh_low
comm_panel(1332, 1496.4, 1868.3, 2054, cdh_prob, cdh_top, .024, [0, .01, .02], cdh_side, .021, [0, .01, .02],
           "CDH signaling network", (1413.6, 1845), (1520.5, 1524, 1945.7, 1973),
           [.015, .01, .005, 0], ["0.015", "0.01", "0.005", "0"])

# ---------------- K ----------------
role_matrix = np.array([sender_score, receiver_score, mediator_score, influencer_score], dtype=float).T
ax_k = px_axes(935.6, 1481, 1014.7, 1733)
ax_k.imshow(role_matrix, cmap=green_cmap, vmin=0, vmax=1, aspect='auto', interpolation='nearest')
ax_k.set_xticks(np.arange(4))
ax_k.set_xticklabels(role_names, rotation=90, fontsize=7.5)
ax_k.set_yticks([])
ax_k.tick_params(axis='x', length=0, pad=3)
only_spines(ax_k, [])

role_colors = [cell_colors[cell_types.index(c)] for c in role_cells]
ax_ks = px_axes(1017.7, 1481, 1024, 1733)
ax_ks.barh(np.arange(13), [1] * 13, height=1, color=role_colors, linewidth=0)
ax_ks.set_ylim(12.5, -.5)
ax_ks.set_xlim(0, 1)
ax_ks.axis('off')
role_step = (1733 - 1481) / 13
for k, name in enumerate(role_cells):
    ov.text(1029, 1481 + (k + .5) * role_step - 1, name, rotation=138, rotation_mode='anchor',
            ha='right', va='center', fontsize=7.5)
ov.text(923, 1607.5, "EGF signaling pathway network", rotation=90, fontsize=7.7, ha='center', va='center')

ax_kc = px_axes(943, 1455, 1007, 1462)
ax_kc.imshow(np.linspace(1, 0, 128)[None, :], cmap=green_cmap, aspect='auto', vmin=0, vmax=1)
ax_kc.axis('off')
ov.text(975.4, 1470.7, "Importance", rotation=180, fontsize=6.5, ha='center', va='center')
ov.text(945, 1449.5, "1", rotation=90, fontsize=5.5, ha='center', va='center')
ov.text(1004, 1449.5, "0", rotation=90, fontsize=5.5, ha='center', va='center')

# ---------------- L ----------------
ax_l = px_axes(1227, 1477, 1466, 1775)
ax_l.barh(np.arange(len(lr_pairs)), lr_contribution, height=0.68, color='#595959', linewidth=0)
ax_l.set_xlim(-11 / 217, (1466 - 1238) / 217)
ax_l.set_ylim((1775 - 1494.7) / 29.33, (1477 - 1494.7) / 29.33)
ax_l.set_yticks(np.arange(len(lr_pairs)))
ax_l.set_yticklabels(lr_pairs, fontsize=4.1)
ax_l.set_xticks([])
ax_l.tick_params(axis='y', length=0, pad=2)
only_spines(ax_l, ['left', 'bottom'], color='#555555', lw=0.9)
ov.text(1346.5, 1471, "Contribution of each L-R pair", fontsize=4, ha='center', va='center')
ov.text(1346.5, 1780.7, "Relative contribution", fontsize=4, ha='center', va='center')

fig.savefig("out.png", dpi=100)
